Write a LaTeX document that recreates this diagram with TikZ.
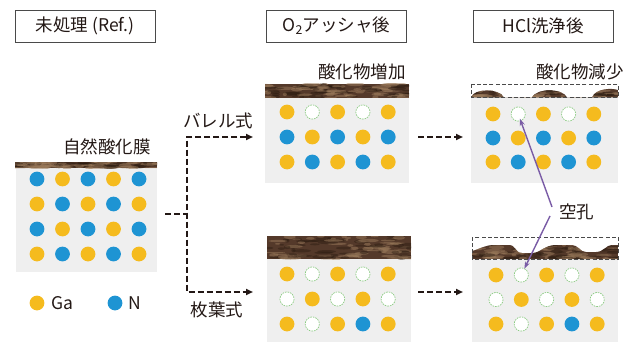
\documentclass[tikz,border=0pt]{standalone}
\usepackage{fontspec}
\setmainfont{Noto Sans CJK JP}
\usetikzlibrary{arrows.meta,calc}

\definecolor{ink}{HTML}{231815}
\definecolor{gacol}{HTML}{F5BB1E}
\definecolor{ncol}{HTML}{1E94D3}
\definecolor{vacline}{HTML}{8CCB83}
\definecolor{panelbg}{HTML}{EFEFEF}
\definecolor{oxbase}{HTML}{54392A}
\definecolor{oxlight}{HTML}{9C7C5C}
\definecolor{oxdark}{HTML}{2A1B10}
\definecolor{arrowpurple}{HTML}{7A5CA6}
\definecolor{frame}{HTML}{4A4A4A}

\tikzset{
  lbl/.style={font=\fontsize{17.5}{20}\selectfont, text=ink, inner sep=0pt},
  titlebox/.style={draw=frame, line width=0.8pt, minimum width=140pt,
    minimum height=32pt, inner sep=0pt, font=\fontsize{17.5}{20}\selectfont, text=ink},
  conn/.style={draw=ink, line width=2.9pt, dash pattern=on 6pt off 3pt},
  tipT/.tip={Triangle[length=7pt,width=6pt]},
  vacancy/.style={fill=white, draw=vacline, line width=0.7pt, dash pattern=on 1.6pt off 1pt},
  dashbox/.style={draw=frame, line width=0.9pt, dash pattern=on 4pt off 2.2pt},
  pointer/.style={draw=arrowpurple, line width=1.4pt, -{Stealth[length=7pt,width=5pt]}},
}

\def\kindG{G}
\def\kindN{N}

% grid of lattice sites: name prefix, x0, y0, dx, dy, rows of G/N/V
\newcommand\lattice[6]{%
  \foreach \row [count=\j from 0] in {#6}{
    \foreach \t [count=\i from 0] in \row {
      \coordinate (#1-\j-\i) at ({#2+\i*#4},{#3+\j*#5});
      \edef\cur{\t}
      \ifx\cur\kindG \fill[gacol] (#1-\j-\i) circle[radius=7.4];
      \else\ifx\cur\kindN \fill[ncol] (#1-\j-\i) circle[radius=7.4];
      \else \draw[vacancy] (#1-\j-\i) circle[radius=7.1];
      \fi\fi
    }
  }
}

% mottled oxide texture over a box (clip set by the caller)
\newcommand\oxidefill[4]{%
  \fill[oxbase] (#1,#2) rectangle (#3,#4);
  \foreach \k in {1,...,110}{
    \pgfmathsetmacro\px{#1+rnd*(#3-#1)}
    \pgfmathsetmacro\py{#2+rnd*(#4-#2)}
    \pgfmathsetmacro\pw{2+rnd*9}
    \pgfmathsetmacro\ph{0.5+rnd*1.6}
    \pgfmathsetmacro\pk{rnd}
    \ifdim\pk pt<0.55pt
      \fill[oxlight,opacity=.5] (\px,\py) ellipse[x radius=\pw,y radius=\ph];
    \else
      \fill[oxdark,opacity=.45] (\px,\py) ellipse[x radius=\pw,y radius=\ph];
    \fi
  }
}

\begin{document}
\begin{tikzpicture}[x=1pt,y=-1pt]
\pgfmathsetseed{11}
\useasboundingbox (0,0) rectangle (642,342);

% ---- column titles
\node[titlebox] (tref) at (85,26) {未処理 (Ref.)};
\node[titlebox] (tash) at (336.5,26) {O\textsubscript{2}アッシャ後};
\node[titlebox] (thcl) at (543,26) {HCl洗浄後};

% ---- untreated sample
\fill[panelbg] (16,168) rectangle (157,272);
\begin{scope}
  \clip (15,162) rectangle (157,168);
  \oxidefill{15}{162}{157}{168}
\end{scope}
\node[lbl, anchor=east] (natox) at (151,147) {自然酸化膜};
\lattice{ref}{37}{179}{25.5}{25}{{N,G,N,G,N},{G,N,G,N,G},{N,G,N,G,N},{G,N,G,N,G}}

% legend
\fill[gacol] (37,303) circle[radius=7.4];
\node[lbl, anchor=west] (lga) at (51,303) {Ga};
\fill[ncol] (115,303) circle[radius=7.4];
\node[lbl, anchor=west] (ln) at (128,303) {N};

% ---- O2 ashing, barrel type
\fill[panelbg] (265,98) rectangle (409,183);
\begin{scope}
  \clip (265,84) rectangle (409,98);
  \oxidefill{265}{84}{409}{98}
\end{scope}
\node[lbl, anchor=east] (oxup) at (406,72) {酸化物増加};
\lattice{mt}{287}{112}{25.3}{25}{{G,V,G,V,G},{N,G,N,G,N},{G,N,G,N,G}}

% ---- O2 ashing, single wafer type
\fill[panelbg] (267,259) rectangle (411,342);
\begin{scope}
  \clip (267,236) rectangle (411,259);
  \oxidefill{267}{236}{411}{259}
\end{scope}
\lattice{mb}{287}{274}{25.3}{25}{{G,V,G,V,G},{V,G,V,G,V},{G,V,G,N,G}}

% ---- HCl cleaning, barrel type
\fill[panelbg] (471,97) rectangle (618,183);
\begin{scope}
  \clip (471,97.5) .. controls (474,88) and (499,88) .. (504,97.5)
        -- (532,97.5) .. controls (536,88) and (563,88) .. (567,97.5)
        -- (592,97.5) .. controls (596,88) and (612,88) .. (618,90) -- (618,97.5) -- cycle;
  \oxidefill{471}{86}{618}{98}
\end{scope}
\draw[dashbox] (471,84) rectangle (618,97);
\node[lbl, anchor=east] (oxdown) at (624,72) {酸化物減少};
\lattice{rt}{493}{114}{25.2}{24}{{G,V,G,V,G},{N,G,N,G,N},{G,N,G,N,G}}

% ---- HCl cleaning, single wafer type
\fill[panelbg] (472,259) rectangle (618,342);
\begin{scope}
  \clip (472,259) -- (472,251) .. controls (478,250) and (484,245) .. (495,245)
        -- (509,245) .. controls (516,245) and (515,253) .. (522,253)
        -- (532,253) .. controls (540,253) and (545,245) .. (556,245)
        -- (572,245) .. controls (578,245) and (580,252) .. (586,252)
        -- (596,252) .. controls (604,252) and (606,245) .. (612,245)
        -- (618,245) -- (618,259) -- cycle;
  \oxidefill{472}{243}{618}{259}
\end{scope}
\draw[dashbox] (472,237) rectangle (618,259);
\lattice{rb}{496}{275}{25.3}{24.5}{{G,V,G,V,G},{V,G,V,G,V},{G,V,G,N,G}}

% ---- process split
\coordinate (split0) at (165,214);
\coordinate (split) at (187,214);
\coordinate (ctop) at (187,137);
\coordinate (cbot) at (187,292);
\coordinate (etop) at (253,137);
\coordinate (ebot) at (253,292);
\draw[conn] (split0) -- (split);
\draw[conn, tipT-tipT, line join=miter] (etop) -- (ctop) -- (cbot) -- (ebot);
\node[lbl] (barrel) at (218,121) {バレル式};
\node[lbl] (single) at (217,310) {枚葉式};

% ---- ashing -> cleaning
\coordinate (a1) at (418,137);
\coordinate (a2) at (463,137);
\coordinate (b1) at (418,292);
\coordinate (b2) at (463,292);
\draw[conn, -tipT] (a1) -- (a2);
\draw[conn, -tipT] (b1) -- (b2);

% ---- vacancy callout
\node[lbl, anchor=west] (hole) at (559,212) {空孔};
\coordinate (p1) at (552,207);
\coordinate (p2) at (550,216);
\draw[pointer, shorten >=5pt] (p1) -- (rt-0-1);
\draw[pointer, shorten >=7pt] (p2) -- (rb-0-1);
\end{tikzpicture}
\end{document}
